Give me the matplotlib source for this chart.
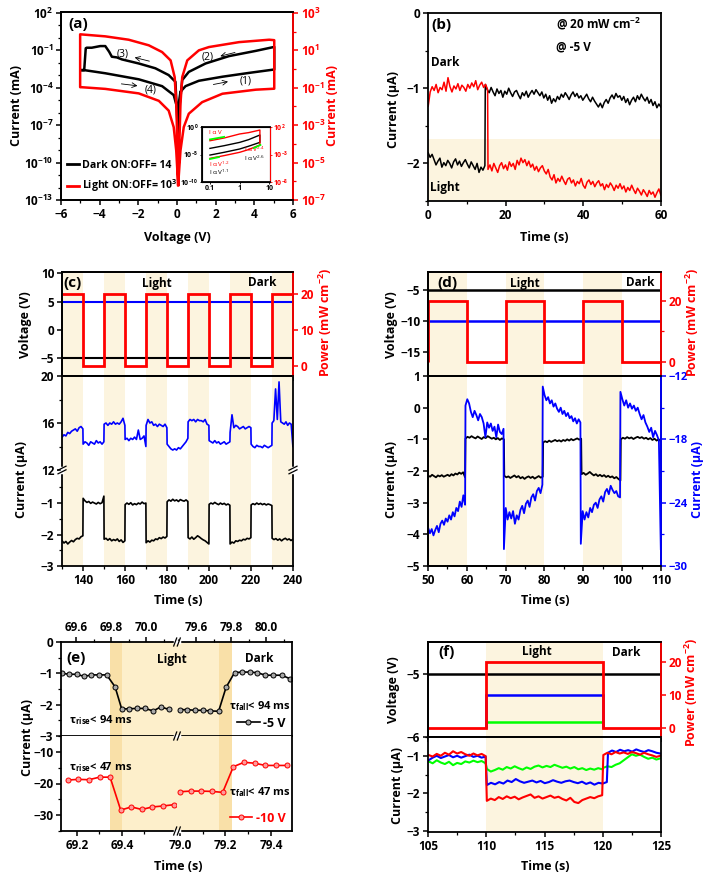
import numpy as np
import matplotlib
matplotlib.use("Agg")
import matplotlib.pyplot as plt
from matplotlib.ticker import MultipleLocator, FixedLocator, NullFormatter, NullLocator, FormatStrFormatter
from matplotlib.lines import Line2D

plt.rcParams['font.family'] = ['Open Sans', 'DejaVu Sans']
plt.rcParams['font.weight'] = 'bold'
plt.rcParams['axes.labelweight'] = 'bold'
plt.rcParams['font.size'] = 8.5
plt.rcParams['mathtext.fontset'] = 'custom'
plt.rcParams['mathtext.rm'] = 'Open Sans:bold'
plt.rcParams['mathtext.it'] = 'Open Sans:bold'
plt.rcParams['mathtext.bf'] = 'Open Sans:bold'
plt.rcParams['mathtext.default'] = 'regular'
plt.rcParams['axes.linewidth'] = 1.3
for k in ('xtick', 'ytick'):
    plt.rcParams[k + '.major.width'] = 1.1
    plt.rcParams[k + '.minor.width'] = 0.9
    plt.rcParams[k + '.major.size'] = 3.5
    plt.rcParams[k + '.minor.size'] = 2
    plt.rcParams[k + '.major.pad'] = 2
    plt.rcParams[k + '.labelsize'] = 8.5

BEIGE = '#FCF4DF'
BEIGE_MID = '#FDEFCB'
BEIGE_DARK = '#F9E0A8'
RED = '#FF0000'
BLUE = '#0000FF'
GREEN = '#00FF00'

# ---------------- (a) I-V loops ----------------
black_a_v = [0.06, 0.04, 0.18, 0.44, 1.13, 2.35, 3.73, 5.03, 5.03, 4.08, 2.69, 1.48, 0.61, 0.27, 0.15, 0.06,
             -0.02, -0.08, -0.43, -1.12, -1.98, -2.85, -3.11, -3.37, -3.51, -3.71, -3.97, -4.41, -4.67, -4.72,
             -4.8, -4.95, -4.8, -3.71, -1.98, -0.77, -0.17, 0.04, 0.06]
black_a_i = [1.2e-8, 1.6e-6, 4.7e-5, 1.3e-4, 3.5e-4, 7.4e-4, 1.5e-3, 2.8e-3, 1.8e-1, 8.7e-2, 3.3e-2, 8.5e-3,
             1.8e-3, 4.0e-4, 5.5e-6, 1.2e-8, 3e-6, 2.9e-4, 1.0e-3, 3.5e-3, 8.5e-3, 1.8e-2, 2.6e-2, 2.95e-2,
             7.4e-2, 2.1e-1, 2.1e-1, 1.55e-1, 1.55e-1, 1.4e-1, 2.5e-3, 2.5e-3, 2.5e-3, 1.4e-3, 4.6e-4, 1.3e-4,
             2.5e-5, 1.6e-6, 1.2e-8]
red_a_v = [0.06, 0.18, 0.35, 0.61, 1.3, 2.35, 4.08, 5.03, 5.03, 4.77, 3.21, 1.65, 1.13, 0.53, 0.27, 0.18, 0.06,
           0.03, -0.04, -0.12, -0.33, -0.77, -1.46, -2.5, -3.71, -5.01, -5.01, -4.93, -3.71, -1.98, -0.94, -0.43,
           -0.17, -0.04, 0.06]
red_a_i = [6.3e-7, 4.4e-5, 7.9e-4, 4.1e-3, 1.7e-2, 4.8e-2, 7.9e-2, 8.9e-2, 35, 37, 27.5, 15, 10, 2.9, 0.37,
           1.4e-2, 6.3e-7, 4.4e-5, 1.4e-2, 0.37, 2.9, 8.1, 18.6, 37, 56, 72, 0.107, 0.107, 8.7e-2, 5e-2, 2e-2,
           6e-3, 7.8e-4, 4.4e-5, 6.3e-7]

# inset (log-log)
inset_v = [0.1, 0.3, 1, 2, 4.8]
inset_red_hi = [0.32, 1.0, 5.4, 9.5, 28]
inset_red_lo = [2e-4, 6.3e-4, 2.5e-3, 7.9e-3, 5.4e-2]
inset_blk_hi = [1.3e-4, 4e-4, 1.6e-3, 5e-3, 3.5e-2]
inset_blk_lo = [7.9e-6, 2.5e-5, 1e-4, 3.2e-4, 1.6e-3]
fit_segments = [([0.1, 0.3], [0.55, 1.6]), ([0.1, 0.2], [1.5e-4, 3.4e-4]), ([3.0, 5.0], [1.5e-2, 5.5e-2])]

# ---------------- (b) switching ----------------
b_black_edges = [0, 14.7, 60]
b_black = [
    [-1.86, -1.92, -1.88, -1.95, -2.02, -1.97, -1.93, -2.05, -1.99, -2.03, -1.96, -2.0, -2.06, -1.98, -1.94,
     -2.02, -1.97, -2.04, -1.99, -1.95, -2.01, -2.06, -1.98, -2.03, -2.08, -2.0, -2.12, -2.05, -2.09, -2.03],
    [-0.95, -1.02, -1.06, -0.99, -1.05, -1.1, -1.01, -1.07, -1.03, -1.12, -1.04, -1.08, -1.0, -1.06, -1.11,
     -1.05, -1.03, -1.09, -1.14, -1.06, -1.1, -1.04, -1.12, -1.07, -1.03, -1.08, -1.02, -1.06, -1.1, -1.05,
     -1.13, -1.08, -1.16, -1.1, -1.2, -1.14, -1.18, -1.11, -1.15, -1.08, -1.12, -1.06, -1.1, -1.15, -1.09,
     -1.05, -1.11, -1.07, -1.13, -1.1, -1.16, -1.12, -1.08, -1.14, -1.18, -1.12, -1.17, -1.21, -1.25, -1.2,
     -1.26, -1.19, -1.15, -1.2, -1.13, -1.09, -1.14, -1.07, -1.12, -1.1, -1.16, -1.11, -1.19, -1.14, -1.22,
     -1.16, -1.12, -1.18, -1.1, -1.15, -1.08, -1.13, -1.17, -1.12, -1.2, -1.15, -1.23, -1.18, -1.26, -1.21,
     -1.25]]
b_red_edges = [0, 15.4, 60]
b_red = [
    [-1.24, -1.05, -0.98, -1.03, -0.95, -1.06, -0.99, -1.02, -0.92, -1.04, -0.86, -0.98, -1.05, -0.97, -1.01,
     -0.94, -1.03, -0.96, -0.99, -1.04, -0.95, -1.0, -0.93, -0.98, -0.9, -1.02, -0.96, -0.92, -0.99, -0.95,
     -1.02],
    [-2.08, -2.02, -2.1, -2.0, -2.06, -2.12, -2.03, -1.99, -2.07, -2.02, -2.09, -1.98, -2.04, -2.0, -2.08,
     -1.96, -2.02, -1.93, -1.99, -1.95, -2.03, -1.97, -2.05, -2.01, -2.09, -2.04, -2.11, -2.06, -2.03, -2.1,
     -2.14, -2.08, -2.18, -2.22, -2.15, -2.26, -2.2, -2.24, -2.17, -2.23, -2.28, -2.21, -2.19, -2.26, -2.22,
     -2.3, -2.24, -2.27, -2.2, -2.29, -2.33, -2.25, -2.22, -2.28, -2.24, -2.31, -2.26, -2.23, -2.3, -2.27,
     -2.35, -2.28, -2.32, -2.26, -2.3, -2.36, -2.29, -2.33, -2.27, -2.34, -2.3, -2.38, -2.32, -2.36, -2.29,
     -2.35, -2.4, -2.33, -2.37, -2.42, -2.35, -2.39, -2.44, -2.36, -2.41, -2.38, -2.45, -2.39, -2.34, -2.42]]

# ---------------- (c) +/-5 V cycling ----------------
c_edges = [130, 140, 150, 160, 170, 180, 190, 200, 210, 220, 230, 240]
c_power = [20, 0, 20, 0, 20, 0, 20, 0, 20, 0, 20]
c_light = [130, 150, 170, 190, 210, 230]
c_bias = [5, -5]
c_black = [
    [-2.2, -2.27, -2.22, -2.3, -2.24, -2.19, -2.23, -2.16, -2.12, -2.14, -2.07, -2.04],
    [-0.85, -0.93, -0.98, -0.95, -1.01, -0.97, -1.0, -1.03, -0.98, -1.02, -0.99, -0.78],
    [-2.15, -2.12, -2.18, -2.13, -2.2, -2.16, -2.19, -2.14, -2.22, -2.17, -2.25, -2.2],
    [-1.05, -1.0, -1.04, -0.99, -1.06, -1.02, -1.05, -1.0, -1.03, -0.97, -1.02, -1.0],
    [-2.26, -2.2, -2.24, -2.18, -2.2, -2.14, -2.16, -2.1, -2.13, -2.08, -2.11, -2.06],
    [-0.96, -0.9, -0.94, -0.88, -0.93, -0.9, -0.95, -0.89, -0.92, -0.94, -0.9, -0.95],
    [-2.1, -2.14, -2.08, -2.15, -2.1, -2.04, -2.08, -2.13, -2.17, -2.2, -2.25, -2.3],
    [-1.04, -1.0, -1.03, -0.98, -1.02, -1.05, -1.0, -1.04, -1.01, -1.06, -1.03, -1.07],
    [-2.3, -2.24, -2.27, -2.2, -2.22, -2.18, -2.2, -2.15, -2.17, -2.12, -2.14, -2.1],
    [-1.06, -1.02, -1.05, -1.0, -1.04, -1.01, -1.05, -1.02, -1.06, -1.03, -1.05, -1.08],
    [-2.12, -2.16, -2.13, -2.18, -2.14, -2.2, -2.15, -2.12, -2.17, -2.14, -2.19, -2.15]]
c_blue = [
    [14.8, 15.0, 14.9, 15.2, 15.1, 15.3, 15.4, 15.5, 15.3, 15.6, 15.7, 15.5],
    [14.2, 14.4, 14.3, 14.1, 14.4, 14.3, 14.2, 14.5, 14.3, 14.4, 14.2, 14.4],
    [15.9, 16.0, 15.8, 16.0, 15.9, 16.1, 15.9, 16.0, 15.9, 16.1, 16.4, 15.8],
    [14.6, 14.7, 14.5, 14.7, 14.6, 14.8, 14.6, 15.4, 14.6, 14.7, 14.9, 14.0],
    [15.8, 16.3, 16.0, 16.1, 15.8, 15.9, 15.7, 15.9, 15.8, 15.7, 15.9, 15.6],
    [14.2, 14.0, 13.8, 13.7, 13.8, 13.7, 13.9, 13.8, 14.0, 14.2, 14.4, 14.7],
    [16.1, 16.3, 16.2, 16.3, 16.1, 16.3, 16.2, 16.2, 16.1, 16.3, 15.9, 15.8],
    [14.5, 14.4, 14.3, 14.5, 14.3, 14.4, 14.2, 14.3, 14.4, 14.2, 14.3, 14.4],
    [15.2, 16.7, 15.6, 15.8, 15.7, 15.5, 15.6, 15.7, 15.5, 15.6, 15.7, 15.6],
    [14.2, 14.0, 13.9, 14.1, 14.0, 14.0, 13.9, 14.1, 14.0, 13.9, 14.0, 14.1],
    [16.0, 16.2, 18.9, 16.3, 19.5, 16.1, 16.0, 15.9, 16.1, 15.8, 16.0, 15.9, 14.0]]

# ---------------- (d) -5 / -10 V cycling ----------------
d_edges = [50, 60, 70, 80, 90, 100, 110]
d_power = [20, 0, 20, 0, 20, 0]
d_light = [50, 70, 90]
d_bias = [-5, -10]
d_black_edges = [50, 59.6, 69.6, 79.6, 89.5, 99.6, 110]
d_black = [
    [-2.15, -2.18, -2.12, -2.16, -2.2, -2.14, -2.17, -2.13, -2.18, -2.15, -2.12, -2.16, -2.1, -2.14, -2.08,
     -2.11, -2.05, -2.09, -2.04, -2.2],
    [-0.98, -0.92, -0.95, -0.9, -0.94, -0.97, -0.91, -0.95, -0.99, -0.93, -0.96, -0.9, -0.94, -0.98, -0.95,
     -1.0, -0.96, -1.02, -0.97, -1.0],
    [-2.15, -2.2, -2.17, -2.22, -2.18, -2.14, -2.2, -2.16, -2.23, -2.19, -2.25, -2.2, -2.17, -2.22, -2.18,
     -2.24, -2.2, -2.16, -2.21, -2.18],
    [-1.1, -1.06, -1.09, -1.04, -1.08, -1.05, -1.02, -1.06, -1.03, -1.07, -1.02, -1.05, -1.0, -1.04, -0.99,
     -1.03, -1.0, -0.97, -1.01, -0.98],
    [-2.1, -2.06, -2.12, -2.08, -2.03, -2.09, -2.14, -2.1, -2.16, -2.12, -2.17, -2.13, -2.19, -2.15, -2.2,
     -2.17, -2.23, -2.19, -2.25, -2.3],
    [-1.0, -0.95, -0.98, -0.93, -0.97, -0.94, -0.99, -0.95, -0.92, -0.96, -0.93, -0.98, -0.95, -1.0, -0.96,
     -1.02, -0.98, -1.04, -1.0, -1.06]]
d_blue_edges = [50, 59.6, 69.5, 79.5, 89.3, 99.5, 110]
d_blue = [
    [-26.4, -26.9, -26.5, -27.1, -26.6, -26.2, -26.8, -26.0, -25.7, -26.1, -25.5, -25.8, -25.2, -25.6, -24.9,
     -25.3, -24.5, -24.8, -23.9, -24.4, -23.3, -24.2],
    [-14.8, -14.2, -14.6, -15.4, -15.9, -15.3, -15.7, -16.2, -15.6, -15.9, -16.5, -17.8, -16.4, -16.9, -16.5,
     -17.2, -16.8, -17.8, -16.6, -17.3, -17.5, -17.0],
    [-28.4, -24.5, -25.6, -24.9, -25.5, -24.8, -26.0, -25.2, -25.6, -24.7, -24.3, -25.0, -24.1, -23.8, -24.4,
     -23.5, -23.2, -23.8, -22.9, -22.6, -23.1, -22.3],
    [-13.0, -13.8, -14.3, -14.0, -14.6, -14.3, -14.9, -14.6, -15.1, -15.4, -15.0, -15.6, -15.3, -15.8, -15.5,
     -16.0, -15.8, -16.3, -16.0, -16.5, -16.1, -16.4],
    [-27.9, -24.8, -25.6, -24.9, -25.4, -24.5, -24.9, -24.2, -24.0, -24.5, -23.7, -23.4, -23.9, -23.0, -22.7,
     -23.2, -22.4, -22.8, -23.1, -22.9, -23.4, -23.5],
    [-13.5, -14.2, -14.8, -14.3, -15.0, -14.6, -15.1, -14.8, -15.3, -15.0, -15.6, -16.1, -15.7, -16.4, -16.8,
     -17.3, -16.9, -17.8, -17.2, -17.6, -18.1, -28.4]]

# ---------------- (e) response time ----------------
e_blk_t_left = [69.522, 69.560, 69.604, 69.647, 69.687, 69.731, 69.775, 69.823, 69.861, 69.903, 69.949,
                69.994, 70.041, 70.085, 70.129]
e_blk_i_left = [-1.0, -1.03, -1.03, -1.1, -1.05, -1.05, -1.05, -1.43, -2.14, -2.13, -2.12, -2.12, -2.2,
                -2.07, -2.15]
e_blk_t_right = [79.510, 79.552, 79.594, 79.638, 79.682, 79.729, 79.771, 79.819, 79.861, 79.905, 79.949,
                 79.994, 80.038, 80.086, 80.133]
e_blk_i_right = [-2.16, -2.16, -2.18, -2.18, -2.2, -2.21, -1.45, -0.98, -0.96, -0.96, -0.98, -1.06, -1.06,
                 -1.06, -1.17]
e_red_t_left = [69.16, 69.207, 69.254, 69.301, 69.348, 69.395, 69.442, 69.489, 69.536, 69.583, 69.63]
e_red_i_left = [-18.9, -18.7, -18.8, -18.0, -18.0, -28.4, -27.4, -28.2, -27.4, -27.1, -26.7]
e_red_t_right = [79.0, 79.047, 79.094, 79.141, 79.188, 79.235, 79.282, 79.329, 79.376, 79.423, 79.47]
e_red_i_right = [-22.6, -22.4, -22.4, -22.5, -22.8, -14.7, -13.3, -13.6, -14.3, -14.3, -14.3]
e_top_dark = [(69.794, 69.861), (79.733, 79.807)]
e_top_light = [(69.861, 70.2), (79.45, 79.733)]
e_bot_dark = [(69.348, 69.40), (79.173, 79.231)]
e_bot_light = [(69.40, 69.7), (78.95, 79.173)]

# ---------------- (f) intensity ----------------
f_edges = [105, 110, 120, 125]
f_power = [0, 20, 0]
f_power_blue = 10
f_power_green = 2
f_bias = -5
f_red_edges = [105, 110, 120, 125]
f_red = [
    [-0.98, -1.02, -0.95, -1.0, -0.92, -0.97, -0.88, -0.94, -0.9, -0.96, -1.0, -0.94, -0.99, -0.95, -1.01],
    [-2.2, -2.14, -2.18, -2.1, -2.15, -2.08, -2.13, -2.09, -2.16, -2.11, -2.07, -2.03, -2.12, -2.08, -2.14,
     -2.1, -2.06, -2.12, -2.09, -2.15, -2.19, -2.12, -2.23, -2.26, -2.18, -2.14, -2.1, -2.13, -2.08, -2.05],
    [-0.98, -0.92, -0.96, -0.9, -0.94, -0.91, -0.95, -0.9, -0.93, -0.97, -0.92, -0.96, -0.99, -1.03, -1.0]]
f_blue_edges = [105, 110, 120.4, 125]
f_blue = [
    [-1.12, -1.05, -1.0, -1.06, -1.02, -0.98, -1.04, -1.0, -1.05, -1.01, -0.97, -1.03, -1.0, -1.05, -1.02],
    [-1.78, -1.72, -1.76, -1.7, -1.74, -1.66, -1.7, -1.62, -1.68, -1.72, -1.69, -1.66, -1.71, -1.67, -1.73,
     -1.7, -1.65, -1.69, -1.72, -1.68, -1.66, -1.7, -1.73, -1.69, -1.75, -1.71, -1.77, -1.72, -1.74, -1.7],
    [-0.92, -0.86, -0.9, -0.84, -0.88, -0.85, -0.89, -0.83, -0.87, -0.9, -0.85, -0.88, -0.92, -0.94]]
f_green_edges = [105, 110, 120, 125]
f_green = [
    [-1.15, -1.2, -1.12, -1.18, -1.22, -1.16, -1.25, -1.19, -1.22, -1.15, -1.18, -1.13, -1.17, -1.14, -1.2],
    [-1.35, -1.42, -1.38, -1.33, -1.37, -1.3, -1.34, -1.28, -1.33, -1.37, -1.31, -1.35, -1.29, -1.26, -1.31,
     -1.27, -1.3, -1.24, -1.28, -1.32, -1.29, -1.34, -1.3, -1.36, -1.33, -1.38, -1.34, -1.37, -1.33, -1.36],
    [-1.32, -1.28, -1.3, -1.24, -1.2, -1.12, -1.04, -0.96, -1.0, -0.97, -1.03, -1.08, -1.05, -1.1, -1.07]]

W, H = 709, 876
fig = plt.figure(figsize=(W / 100, H / 100), dpi=100)


def box(x0, y0, x1, y1):
    return fig.add_axes([x0 / W, 1 - y1 / H, (x1 - x0) / W, (y1 - y0) / H])


def ftext(x, y, s, **kw):
    kw.setdefault('ha', 'center')
    kw.setdefault('va', 'center')
    kw.setdefault('fontsize', 9)
    fig.text(x / W, 1 - y / H, s, **kw)


def seg_trace(edges, pieces):
    # samples spread evenly inside each segment between the switching times
    t, v = [], []
    for a, b, vals in zip(edges[:-1], edges[1:], pieces):
        t.extend(np.linspace(a + 0.05, b - 0.05, len(vals)))
        v.extend(vals)
    return np.array(t), np.array(v)


def fig_line(xs, ys, **kw):
    fig.add_artist(Line2D([x / W for x in xs], [1 - y / H for y in ys], **kw))


def brk_v(x, y):
    # break mark across a vertical spine
    fig_line([x, x], [y - 2, y + 2], color='white', lw=2.5)
    for d in (-1.8, 1.8):
        fig_line([x - 4, x + 4], [y + 2 + d, y - 2 + d], color='k', lw=0.9)


def brk_h(x, y):
    # break mark across a horizontal spine
    fig_line([x - 2, x + 2], [y, y], color='white', lw=2.5)
    for d in (-1.8, 1.8):
        fig_line([x - 1.5 + d, x + 1.5 + d], [y + 4, y - 4], color='k', lw=0.9)


def color_right(ax, c):
    ax.spines['right'].set_color(c)
    ax.tick_params(axis='y', which='both', colors=c)


# ================= (a) =================
ax = box(61, 12, 293, 200)
ax.set_xlim(-6, 6)
ax.xaxis.set_major_locator(MultipleLocator(2))
ax.xaxis.set_minor_locator(MultipleLocator(1))
ax.set_yscale('log')
ax.set_ylim(1e-13, 10 ** 2.05)
ax.yaxis.set_major_locator(FixedLocator([10.0 ** e for e in (2, -1, -4, -7, -10, -13)]))
ax.yaxis.set_minor_locator(FixedLocator([10.0 ** e for e in range(-13, 3)]))
ax.yaxis.set_minor_formatter(NullFormatter())
ax.plot(black_a_v, black_a_i, color='k', lw=1.8)
axr = ax.twinx()
axr.set_yscale('log')
axr.set_ylim(1e-7, 10 ** 3.05)
axr.yaxis.set_major_locator(FixedLocator([10.0 ** e for e in (3, 1, -1, -3, -5, -7)]))
axr.yaxis.set_minor_locator(FixedLocator([10.0 ** e for e in range(-7, 4)]))
axr.yaxis.set_minor_formatter(NullFormatter())
axr.plot(red_a_v, red_a_i, color=RED, lw=1.8)
color_right(axr, RED)
ax.legend(handles=[Line2D([], [], color='k', lw=2), Line2D([], [], color=RED, lw=2)],
          labels=['Dark ON:OFF= 14', 'Light ON:OFF= 10$^3$'], loc='lower left', frameon=False,
          handlelength=1.2, handletextpad=0.25, borderaxespad=0.15, labelspacing=0.6, fontsize=7.6)
arrows = [((1.74, 1.6e-4), (2.78, 3.3e-4), (3.56, 3.3e-4), '(1)'),
          ((3.14, 7.3e-2), (2.1, 2.9e-2), (1.6, 2.9e-2), '(2)'),
          ((-1.29, 1.15e-2), (-2.33, 2.9e-2), (-2.8, 4.5e-2), '(3)'),
          ((-3.02, 2.1e-4), (-1.9, 1.3e-4), (-1.38, 6.3e-5), '(4)')]
for start, end, lpos, lab in arrows:
    ax.annotate('', xy=end, xytext=start, arrowprops=dict(arrowstyle='->', lw=0.6, color='k'))
    ax.text(lpos[0], lpos[1], lab, ha='center', va='center', fontsize=7.5, fontweight='normal')
ftext(78, 24, '(a)', fontsize=11)
ftext(17, 106, 'Current (mA)', rotation=90)
ftext(333, 106, 'Current (mA)', rotation=90, color=RED)
ftext(177, 238, 'Voltage (V)')

# inset
axi = box(202, 127, 270, 182)
axi.set_xscale('log')
axi.set_yscale('log')
axi.set_xlim(0.054, 10.5)
axi.set_ylim(1e-10, 1)
axi.xaxis.set_major_locator(FixedLocator([0.1, 1, 10]))
axi.set_xticklabels(['0.1', '1', '10'])
axi.xaxis.set_minor_locator(NullLocator())
axi.yaxis.set_major_locator(FixedLocator([1, 1e-5, 1e-10]))
axi.yaxis.set_minor_locator(NullLocator())
axi.tick_params(labelsize=5, length=1.5, width=0.6, pad=1)
for s in axi.spines.values():
    s.set_linewidth(0.8)
axi.plot(inset_v + inset_v[-1:] + inset_v[::-1], inset_blk_lo + inset_blk_hi[-1:] + inset_blk_hi[::-1],
         color='k', lw=1)
axir = axi.twinx()
axir.set_yscale('log')
axir.set_ylim(1e-8, 1e2)
axir.yaxis.set_major_locator(FixedLocator([1e2, 1e-3, 1e-8]))
axir.yaxis.set_minor_locator(NullLocator())
axir.tick_params(labelsize=5, length=1.5, width=0.6, pad=1)
axir.spines['right'].set_linewidth(0.8)
color_right(axir, RED)
axir.plot(inset_v + inset_v[-1:] + inset_v[::-1], inset_red_lo + inset_red_hi[-1:] + inset_red_hi[::-1],
          color=RED, lw=1)
for sv, si in fit_segments:
    axir.plot(sv, si, color=GREEN, lw=1.3)
for x, y, s, c in [(0.1, 0.9, 'I α V', RED), (0.1, 0.33, 'I α V$^{1.2}$', RED),
                   (0.1, 0.17, 'I α V$^{1.1}$', 'k'), (0.62, 0.6, 'I α V$^{2.4}$', RED),
                   (0.62, 0.43, 'I α V$^{2.6}$', 'k')]:
    axi.text(x, y, s, transform=axi.transAxes, fontsize=4.6, color=c, fontweight='normal', va='center')

# ================= (b) =================
bx = box(428, 13, 661, 201)
bx.set_xlim(0, 60)
bx.set_ylim(-2.5, 0)
bx.xaxis.set_major_locator(MultipleLocator(20))
bx.xaxis.set_minor_locator(MultipleLocator(10))
bx.yaxis.set_major_locator(MultipleLocator(1))
bx.yaxis.set_minor_locator(MultipleLocator(0.5))
bx.axhspan(-2.5, -1.67, color=BEIGE, lw=0, zorder=0)
t, v = seg_trace(b_black_edges, b_black)
bx.plot(t, v, color='k', lw=1.1)
t, v = seg_trace(b_red_edges, b_red)
bx.plot(t, v, color=RED, lw=1.1)
ftext(441, 25, '(b)', fontsize=11)
ftext(445, 63, 'Dark', fontsize=8.5)
ftext(445, 187, 'Light', fontsize=8.5)
ftext(556, 24, '@ 20 mW cm$^{-2}$', fontsize=8.5, ha='left')
ftext(556, 47, '@ -5 V', fontsize=8.5, ha='left')
ftext(393, 110, 'Current (μA)', rotation=90)
ftext(544, 237, 'Time (s)')

# ================= (c) =================
cu = box(62, 272, 293, 376)
cb = box(62, 376, 293, 470)
ck = box(62, 470, 293, 566)
for a in (cu, cb, ck):
    a.set_xlim(130, 240)
    a.xaxis.set_major_locator(MultipleLocator(20))
    a.xaxis.set_minor_locator(MultipleLocator(10))
    for s in c_light:
        a.axvspan(s, s + 10, color=BEIGE, lw=0, zorder=0)
cu.set_ylim(-8.1, 10.2)
cu.yaxis.set_major_locator(MultipleLocator(5))
cu.tick_params(axis='x', labelbottom=False)
for lev, col in zip(c_bias, [BLUE, 'k']):
    cu.axhline(lev, color=col, lw=1.5)
cur = cu.twinx()
cur.set_ylim(-2.8, 26.1)
cur.yaxis.set_major_locator(MultipleLocator(10))
cur.stairs(c_power, c_edges, baseline=None, color=RED, lw=2)
color_right(cur, RED)
cb.set_ylim(12, 20)
cb.yaxis.set_major_locator(MultipleLocator(4))
cb.yaxis.set_minor_locator(MultipleLocator(2))
cb.spines['bottom'].set_visible(False)
cb.tick_params(axis='x', which='both', bottom=False, labelbottom=False)
t, v = seg_trace(c_edges, c_blue)
cb.plot(t, v, color=BLUE, lw=1.2)
ck.set_ylim(-3, 0.05)
ck.yaxis.set_major_locator(FixedLocator([-3, -2, -1]))
ck.yaxis.set_minor_locator(FixedLocator([-2.5, -1.5, -0.5]))
ck.spines['top'].set_visible(False)
t, v = seg_trace(c_edges, c_black)
ck.plot(t, v, color='k', lw=1.2)
brk_v(62, 470)
brk_v(293, 470)
ftext(73, 283, '(c)', fontsize=11)
ftext(157, 283, 'Light', fontsize=8.5)
ftext(262, 283, 'Dark', fontsize=8.5)
ftext(26, 325, 'Voltage (V)', rotation=90)
ftext(325, 322, 'Power (mW cm$^{-2}$)', rotation=90, color=RED)
ftext(22, 480, 'Current (μA)', rotation=90)
ftext(178, 601, 'Time (s)')

# ================= (d) =================
du = box(428, 272, 661, 376)
dl = box(428, 376, 661, 566)
for a in (du, dl):
    a.set_xlim(50, 110)
    a.xaxis.set_major_locator(MultipleLocator(10))
    a.xaxis.set_minor_locator(MultipleLocator(5))
    for s in d_light:
        a.axvspan(s, s + 10, color=BEIGE, lw=0, zorder=0)
du.set_ylim(-18.95, -2.08)
du.yaxis.set_major_locator(MultipleLocator(5))
du.tick_params(axis='x', labelbottom=False)
for lev, col in zip(d_bias, ['k', BLUE]):
    du.axhline(lev, color=col, lw=1.8)
dur = du.twinx()
dur.set_ylim(-4.8, 29.7)
dur.yaxis.set_major_locator(MultipleLocator(20))
dur.yaxis.set_minor_locator(MultipleLocator(10))
dur.stairs(d_power, d_edges, baseline=0, color=RED, lw=2)
color_right(dur, RED)
dl.set_ylim(-5, 1)
dl.yaxis.set_major_locator(MultipleLocator(1))
t, v = seg_trace(d_black_edges, d_black)
dl.plot(t, v, color='k', lw=1.3)
dlr = dl.twinx()
dlr.set_ylim(-30, -12)
dlr.yaxis.set_major_locator(MultipleLocator(6))
dlr.yaxis.set_minor_locator(MultipleLocator(3))
t, v = seg_trace(d_blue_edges, d_blue)
dlr.plot(t, v, color=BLUE, lw=1.3)
color_right(dlr, BLUE)
for lbl in dlr.get_yticklabels():
    lbl.set_fontsize(8)
ftext(447, 283, '(d)', fontsize=11)
ftext(525, 283, 'Light', fontsize=8.5)
ftext(640, 283, 'Dark', fontsize=8.5)
ftext(392, 325, 'Voltage (V)', rotation=90)
ftext(692, 322, 'Power (mW cm$^{-2}$)', rotation=90, color=RED)
ftext(392, 480, 'Current (μA)', rotation=90)
ftext(698, 480, 'Current (μA)', rotation=90, color=BLUE)
ftext(545, 601, 'Time (s)')

# ================= (e) =================
eul = box(61, 642, 177, 736)
eur = box(177, 642, 292, 736)
ell = box(61, 736, 177, 831)
elr = box(177, 736, 292, 831)
eul.set_xlim(69.514, 70.177)
eur.set_xlim(79.493, 80.145)
ell.set_xlim(69.13, 69.645)
elr.set_xlim(78.987, 79.493)
for a, maj, mnr in [(eul, [69.6, 69.8, 70.0], [69.7, 69.9, 70.1]),
                    (eur, [79.6, 79.8, 80.0], [79.5, 79.7, 79.9, 80.1]),
                    (ell, [69.2, 69.4], [69.3, 69.5]),
                    (elr, [79.0, 79.2, 79.4], [79.1, 79.3])]:
    a.xaxis.set_major_locator(FixedLocator(maj))
    a.xaxis.set_minor_locator(FixedLocator(mnr))
    a.xaxis.set_major_formatter(FormatStrFormatter('%.1f'))
for a in (eul, eur):
    a.set_ylim(-3, 0)
    a.xaxis.tick_top()
    a.tick_params(axis='x', which='both', top=True, bottom=False)
    for s0, s1 in e_top_light:
        a.axvspan(s0, s1, color=BEIGE_MID, lw=0, zorder=0)
    for s0, s1 in e_top_dark:
        a.axvspan(s0, s1, color=BEIGE_DARK, lw=0, zorder=0)
for a in (ell, elr):
    a.set_ylim(-35, -5)
    a.tick_params(axis='x', which='both', top=False)
    for s0, s1 in e_bot_light:
        a.axvspan(s0, s1, color=BEIGE_MID, lw=0, zorder=0)
    for s0, s1 in e_bot_dark:
        a.axvspan(s0, s1, color=BEIGE_DARK, lw=0, zorder=0)
for a in (eul, ell):
    a.spines['right'].set_visible(False)
for a in (eur, elr):
    a.spines['left'].set_visible(False)
    a.tick_params(axis='y', which='both', left=False, labelleft=False)
eul.yaxis.set_major_locator(MultipleLocator(1))
eul.yaxis.set_minor_locator(MultipleLocator(0.5))
ell.yaxis.set_major_locator(MultipleLocator(10))
ell.yaxis.set_minor_locator(MultipleLocator(5))
ell.spines['top'].set_visible(False)
elr.spines['top'].set_visible(False)
bk = dict(color='k', lw=1.2, marker='o', ms=3.6, mfc='#A8A8A8', mec='k', mew=0.7)
rd = dict(color=RED, lw=1.2, marker='o', ms=3.6, mfc='#FF9A9A', mec=RED, mew=0.7)
eul.plot(e_blk_t_left, e_blk_i_left, **bk)
hb, = eur.plot(e_blk_t_right, e_blk_i_right, **bk)
ell.plot(e_red_t_left, e_red_i_left, **rd)
hr, = elr.plot(e_red_t_right, e_red_i_right, **rd)
eur.legend([hb], ['-5 V'], loc='lower right', frameon=False, handlelength=1.8, handletextpad=0.3,
           borderaxespad=0.1, fontsize=9)
elr.legend([hr], ['-10 V'], loc='lower right', frameon=False, handlelength=1.8, handletextpad=0.3,
           borderaxespad=0.1, fontsize=9, labelcolor=RED)
for y in (642, 736, 831):
    brk_h(177, y)
ftext(76, 658, '(e)', fontsize=11)
ftext(172, 659, 'Light', fontsize=8.5)
ftext(259, 659, 'Dark', fontsize=8.5)
ftext(69, 720, r'$\tau_{rise}$< 94 ms', ha='left', fontsize=8)
ftext(229, 706, r'$\tau_{fall}$< 94 ms', ha='left', fontsize=8)
ftext(69, 767, r'$\tau_{rise}$< 47 ms', ha='left', fontsize=8)
ftext(229, 792, r'$\tau_{fall}$< 47 ms', ha='left', fontsize=8)
ftext(27, 737, 'Current (μA)', rotation=90)
ftext(178, 866, 'Time (s)')

# ================= (f) =================
fu = box(428, 642, 661, 737)
fl = box(428, 737, 661, 832)
for a in (fu, fl):
    a.set_xlim(105, 125)
    a.xaxis.set_major_locator(MultipleLocator(5))
    a.xaxis.set_minor_locator(MultipleLocator(2.5))
    a.axvspan(f_edges[1], f_edges[2], color=BEIGE, lw=0, zorder=0)
fu.set_ylim(-6, -4.49)
fu.yaxis.set_major_locator(MultipleLocator(1))
fu.tick_params(axis='x', labelbottom=False)
fu.axhline(f_bias, color='k', lw=1.8)
fur = fu.twinx()
fur.set_ylim(-2.6, 25.9)
fur.yaxis.set_major_locator(MultipleLocator(10))
fur.stairs([f_power_green], f_edges[1:3], baseline=0, color=GREEN, lw=1.8)
fur.stairs([f_power_blue], f_edges[1:3], baseline=0, color=BLUE, lw=1.8)
fur.stairs(f_power, f_edges, baseline=None, color=RED, lw=2)
color_right(fur, RED)
fl.set_ylim(-3.03, -0.5)
fl.yaxis.set_major_locator(MultipleLocator(1))
fl.yaxis.set_minor_locator(MultipleLocator(0.5))
for edges, pieces, col in [(f_green_edges, f_green, GREEN), (f_blue_edges, f_blue, BLUE),
                           (f_red_edges, f_red, RED)]:
    t, v = seg_trace(edges, pieces)
    fl.plot(t, v, color=col, lw=1.5)
ftext(447, 652, '(f)', fontsize=11)
ftext(537, 652, 'Light', fontsize=8.5)
ftext(626, 652, 'Dark', fontsize=8.5)
ftext(393, 690, 'Voltage (V)', rotation=90)
ftext(691, 692, 'Power (mW cm$^{-2}$)', rotation=90, color=RED)
ftext(398, 785, 'Current (μA)', rotation=90)
ftext(545, 866, 'Time (s)')

fig.savefig('out.png', dpi=100)
